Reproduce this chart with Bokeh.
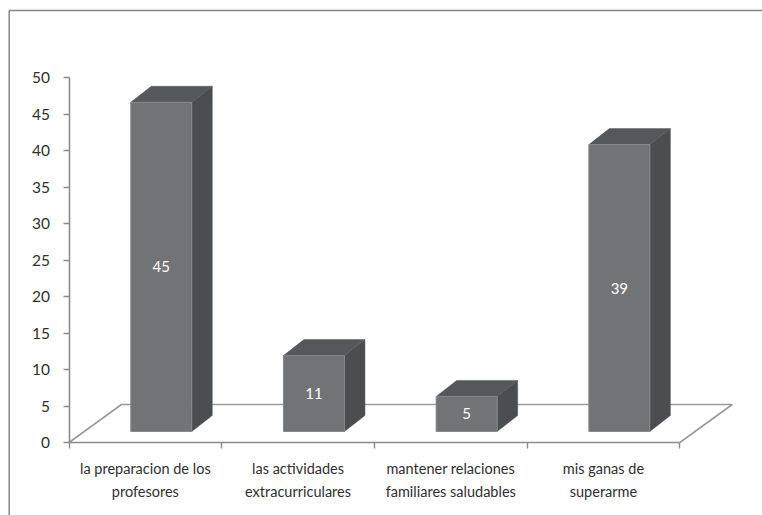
from bokeh.plotting import figure
from bokeh.models import LinearAxis, FixedTicker, Range1d
from bokeh.embed import file_html
from bokeh.resources import INLINE
from bokeh.core.properties import value

categories = ["la preparacion de los\nprofesores", "las actividades\nextracurriculares",
              "mantener relaciones\nfamiliares saludables", "mis ganas de\nsuperarme"]
bar_values = [45.1, 10.4, 4.8, 39.3]
bar_labels = ["45", "11", "5", "39"]
y_ticks = [0, 5, 10, 15, 20, 25, 30, 35, 40, 45, 50]

FONT = "Lato"
W, H = 762, 515
X0, CAT = 68.5, 152.7      # page px of category edge 0, px per category
Y0, UNIT = 442.0, 7.3      # page px of value 0, px per unit
px = lambda v: v / CAT
py = lambda v: v / UNIT
to_x = lambda page: (page - X0) / CAT
to_y = lambda page: (Y0 - page) / UNIT

p = figure(width=W, height=H, output_backend="svg", toolbar_location=None,
           x_range=Range1d(to_x(0), to_x(W)), y_range=Range1d(to_y(H), to_y(0)),
           min_border=0, x_axis_type=None, y_axis_type=None)
p.grid.visible = False
p.outline_line_color = None
p.background_fill_color = "white"

# outer frame
p.line([to_x(8.7), to_x(8.7), to_x(762)], [to_y(515), to_y(10), to_y(10)],
       line_color="#85888a", line_width=1.5)

# floor
fx, fy = px(52.5), py(38)
n = len(categories)
p.line([0, fx, n + fx, n], [0, fy, fy, 0], line_color="#9a9c9c", line_width=1.6)

# bars
gap_x, base = px(15.9), py(11)
half = px(30.5)
dx, dy = px(20.5), py(16)
for i, v in enumerate(bar_values):
    c = i + 0.5 + gap_x
    l, r, b, t = c - half, c + half, base, base + v
    p.patch([r, r + dx, r + dx, r], [b, b + dy, t + dy, t], fill_color="#4a4e50", line_color="#4a4e50", line_width=0.5)
    p.patch([l, r, r + dx, l + dx], [t, t, t + dy, t + dy], fill_color="#54585a", line_color="#54585a", line_width=0.5)
    p.patch([l, r, r, l], [b, b, t, t], fill_color="#707476", line_color="#85888a", line_width=1)
    p.text([c], [(b + t) / 2], text=[bar_labels[i]], text_color="white",
           text_font=value(FONT), text_font_size="15px", text_align="center", text_baseline="middle")

# axes
yax = LinearAxis(fixed_location=0, ticker=FixedTicker(ticks=y_ticks), bounds=(0, 50))
yax.major_tick_out = 6
yax.major_tick_in = 0
yax.minor_tick_line_color = None
yax.major_label_standoff = 13
yax.axis_line_color = "#8a8c8c"
yax.axis_line_width = 1.6
yax.major_tick_line_color = "#8a8c8c"
yax.major_tick_line_width = 1.4
yax.major_label_text_font = FONT
yax.major_label_text_font_size = "15.5px"
yax.major_label_text_color = "#2f2f2f"
p.add_layout(yax, "left")

xax = LinearAxis(fixed_location=0, ticker=FixedTicker(ticks=list(range(n + 1))), bounds=(0, n),
                 major_label_overrides={i: "" for i in range(n + 1)})
xax.major_tick_out = 6
xax.major_tick_in = 0
xax.minor_tick_line_color = None
xax.axis_line_color = "#8a8c8c"
xax.axis_line_width = 1.6
xax.major_tick_line_color = "#8a8c8c"
xax.major_tick_line_width = 1.4
p.add_layout(xax, "below")

centers = [i + 0.5 for i in range(n)]
lab = LinearAxis(fixed_location=0, ticker=FixedTicker(ticks=centers),
                 major_label_overrides=dict(zip(centers, categories)))
lab.axis_line_color = None
lab.major_tick_line_color = None
lab.minor_tick_line_color = None
lab.major_label_standoff = 11
lab.major_label_text_font = FONT
lab.major_label_text_font_size = "14.5px"
lab.major_label_text_color = "#2f2f2f"
lab.major_label_text_line_height = 1.4
p.add_layout(lab, "below")

open("out.html", "w").write(file_html(p, INLINE))
